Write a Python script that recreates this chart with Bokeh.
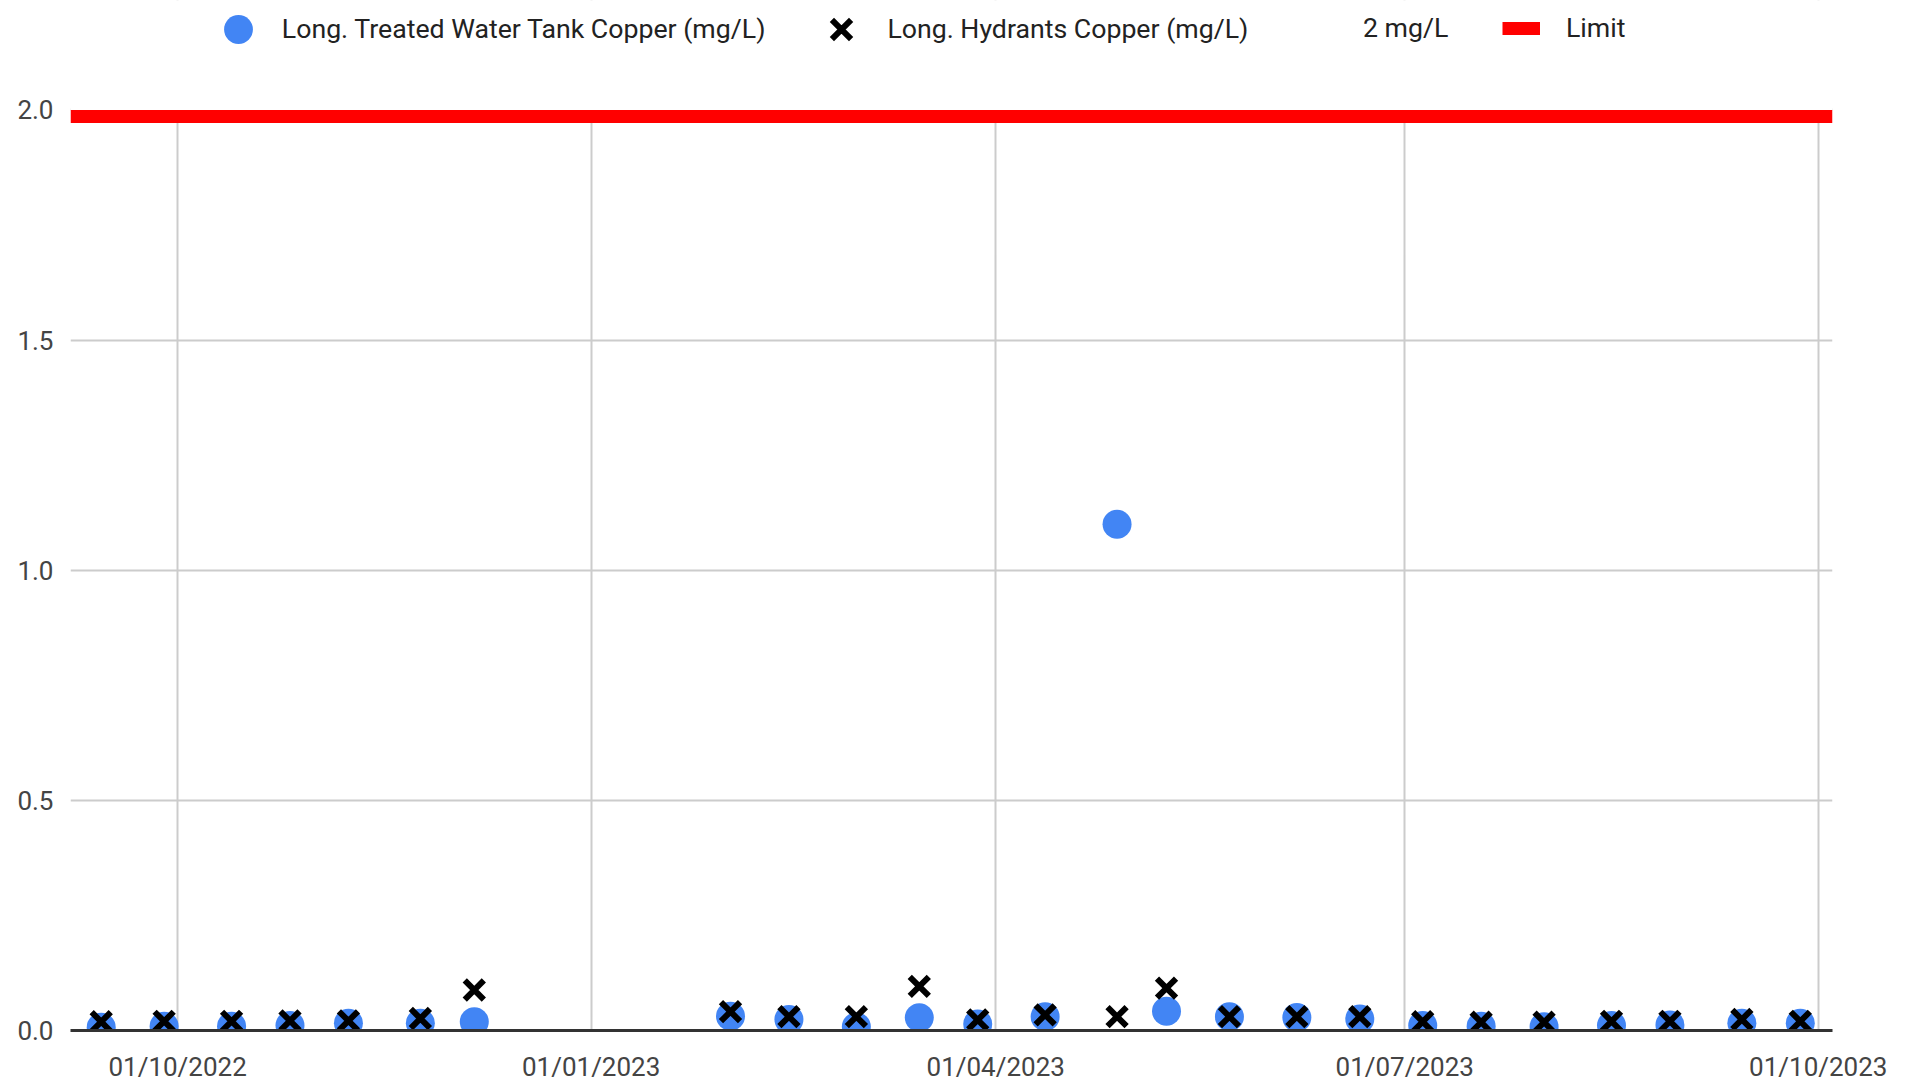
from datetime import datetime
from bokeh.plotting import figure
from bokeh.models import (ColumnDataSource, FixedTicker, DatetimeTickFormatter,
                          Legend, LegendItem, NumeralTickFormatter, BoxAnnotation)
from bokeh.embed import file_html
from bokeh.resources import INLINE

# ---------------- data ----------------
dates = ["2022-09-14", "2022-09-28", "2022-10-13", "2022-10-26", "2022-11-08",
         "2022-11-24", "2022-12-06", "2023-02-01", "2023-02-14", "2023-03-01",
         "2023-03-15", "2023-03-28", "2023-04-12", "2023-04-28", "2023-05-09",
         "2023-05-23", "2023-06-07", "2023-06-21", "2023-07-05", "2023-07-18",
         "2023-08-01", "2023-08-16", "2023-08-29", "2023-09-14", "2023-09-27"]
tank_copper = [0.007, 0.009, 0.009, 0.011, 0.016, 0.016, 0.019, 0.031, 0.024, 0.008,
               0.028, 0.014, 0.030, 1.10, 0.042, 0.030, 0.028, 0.025, 0.011, 0.009,
               0.008, 0.011, 0.012, 0.016, 0.016]
hydrant_copper = [0.019, 0.020, 0.020, 0.021, 0.021, 0.026, 0.088, 0.041, 0.030, 0.030,
                  0.096, 0.023, 0.034, 0.030, 0.092, 0.030, 0.030, 0.030, 0.019, 0.018,
                  0.018, 0.020, 0.020, 0.024, 0.020]
limit_value = 2.0
x_tick_dates = ["2022-10-01", "2023-01-01", "2023-04-01", "2023-07-01", "2023-10-01"]
y_ticks = [0.0, 0.5, 1.0, 1.5, 2.0]
x_start, x_end = "2022-09-07 04:00", "2023-10-04 04:00"

series_labels = ["Long. Treated Water Tank Copper (mg/L)", "Long. Hydrants Copper (mg/L)",
                 "2 mg/L", "Limit"]

# ---------------- helpers ----------------
def to_dt(s):
    fmt = "%Y-%m-%d %H:%M" if " " in s else "%Y-%m-%d"
    return datetime.strptime(s, fmt)

FONT = "Roboto"
FS = "26px"
LEG_FS = "26.7px"
xs = [to_dt(d) for d in dates]
x0, x1 = to_dt(x_start), to_dt(x_end)

FRAME_L, FRAME_W, FRAME_H = 70, 1762, 1030
Y_END = 2.2377
PX_PER_UNIT = FRAME_H / Y_END
LIMIT_THICK = 13 / PX_PER_UNIT     # thickness of the limit band (13 px)

p = figure(frame_width=FRAME_W, frame_height=FRAME_H, x_axis_type="datetime",
           x_range=(x0, x1), y_range=(0, Y_END),
           output_backend="svg", toolbar_location=None,
           min_border_left=FRAME_L, min_border_right=1912 - FRAME_L - FRAME_W,
           min_border_top=0, min_border_bottom=1086 - FRAME_H)
p.outline_line_color = None
p.background_fill_color = "white"

# grid
tick_ms = [to_dt(d).timestamp() * 1000 for d in x_tick_dates]
p.xaxis.ticker = FixedTicker(ticks=tick_ms)
p.yaxis.ticker = FixedTicker(ticks=y_ticks)
fmt = "%d/%m/%Y"
p.xaxis.formatter = DatetimeTickFormatter(years=fmt, months=fmt, days=fmt, hours=fmt,
                                          hourmin=fmt, minutes=fmt, minsec=fmt,
                                          seconds=fmt, milliseconds=fmt, microseconds=fmt)
p.yaxis.formatter = NumeralTickFormatter(format="0.0")
for g in (p.xgrid, p.ygrid):
    g.grid_line_color = "#cccccc"
    g.grid_line_width = 2

# blank the area above the limit (legend zone)
p.add_layout(BoxAnnotation(bottom=limit_value, fill_color="white", fill_alpha=1.0,
                           line_color=None, level="underlay"))

# axes
p.yaxis.axis_line_color = None
p.yaxis.major_tick_line_color = None
p.yaxis.minor_tick_line_color = None
p.yaxis.major_tick_out = 0
p.yaxis.major_tick_in = 0
p.yaxis.major_label_standoff = 17
p.yaxis.major_label_text_font = FONT
p.yaxis.major_label_text_font_size = FS
p.yaxis.major_label_text_color = "#444444"

p.xaxis.axis_line_color = "#333333"
p.xaxis.axis_line_width = 3
p.xaxis.major_tick_line_color = None
p.xaxis.minor_tick_line_color = None
p.xaxis.major_tick_out = 0
p.xaxis.major_tick_in = 0
p.xaxis.major_label_standoff = 21
p.xaxis.major_label_text_font = FONT
p.xaxis.major_label_text_font_size = FS
p.xaxis.major_label_text_color = "#444444"

# glyphs
lim_src = ColumnDataSource(dict(left=[x0], right=[x1], top=[limit_value],
                                bottom=[limit_value - LIMIT_THICK]))
p.quad(left="left", right="right", top="top", bottom="bottom", source=lim_src,
       fill_color="#ff0000", line_color=None)

src = ColumnDataSource(dict(x=xs, tank=tank_copper, hyd=hydrant_copper))
r_tank = p.scatter("x", "tank", source=src, marker="circle", size=29,
                   fill_color="#4285f4", line_color=None)
r_hyd = p.scatter("x", "hyd", source=src, marker="x", size=27,
                  line_color="black", line_width=6)

# legend-only proxies (they draw nothing on the plot)
proxy = ColumnDataSource(dict(x=[x0], y=[float("nan")]))
r_2mg = p.scatter("x", "y", source=proxy, marker="circle", size=1, alpha=0)
r_lim = p.line("x", "y", source=proxy, line_color="#ff0000", line_width=13)

# legends (each positioned individually; location = bottom-left relative to frame)
def add_legend(renderer, label, glyph_w, glyph_h, standoff, glyph_left, center_y=29):
    vx = glyph_left - FRAME_L
    vy = FRAME_H - (center_y + glyph_h / 2)
    lg = Legend(items=[LegendItem(label=label, renderers=[renderer])],
                location=(vx, vy), orientation="horizontal",
                glyph_width=glyph_w, glyph_height=glyph_h, label_standoff=standoff,
                padding=0, margin=0, spacing=0, border_line_color=None,
                background_fill_alpha=0, label_text_font=FONT,
                label_text_font_size=LEG_FS, label_text_color="#222222",
                label_height=glyph_h)
    p.add_layout(lg, "center")

add_legend(r_tank, series_labels[0], 72, 72, 8, 201.8)
add_legend(r_hyd, series_labels[1], 68, 68, 12, 807.4)
add_legend(r_2mg, series_labels[2], 20, 30, 0, 1343)
add_legend(r_lim, series_labels[3], 38, 30, 26, 1502)

open("out.html", "w").write(file_html(p, INLINE))
